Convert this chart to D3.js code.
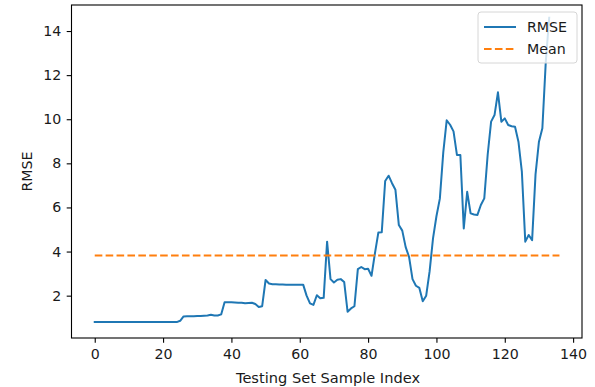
<!DOCTYPE html>
<html>
<head>
<meta charset="utf-8">
<script src="https://cdn.jsdelivr.net/npm/d3@7"></script>
<style>
  html, body { margin: 0; padding: 0; background: #fff; }
  svg { display: block; }
  text { font-family: "DejaVu Sans", sans-serif; fill: #1a1a1a; }
</style>
</head>
<body>
<div id="chart"></div>
<script>
// RMSE per test sample (index 0..133)
const rmseValues = [
  0.80, 0.80, 0.80, 0.80, 0.80, 0.80, 0.80, 0.80, 0.80, 0.80,
  0.80, 0.80, 0.80, 0.80, 0.80, 0.80, 0.80, 0.80, 0.80, 0.80,
  0.80, 0.80, 0.80, 0.80, 0.80, 0.86, 1.06, 1.07, 1.07, 1.07,
  1.08, 1.08, 1.09, 1.10, 1.13, 1.10, 1.10, 1.15, 1.70, 1.70,
  1.70, 1.69, 1.68, 1.68, 1.66, 1.67, 1.68, 1.62, 1.49, 1.52,
  2.71, 2.55, 2.52, 2.52, 2.51, 2.51, 2.50, 2.49, 2.50, 2.50,
  2.50, 2.50, 2.00, 1.65, 1.58, 2.02, 1.88, 1.90, 4.45, 2.75,
  2.60, 2.72, 2.75, 2.62, 1.27, 1.42, 1.52, 3.20, 3.30, 3.20,
  3.22, 2.90, 3.92, 4.86, 4.88, 7.20, 7.44, 7.10, 6.80, 5.20,
  4.95, 4.20, 3.75, 2.75, 2.45, 2.35, 1.75, 2.00, 3.10, 4.60,
  5.60, 6.40, 8.50, 9.95, 9.75, 9.45, 8.38, 8.38, 5.05, 6.71,
  5.73, 5.68, 5.66, 6.11, 6.41, 8.40, 9.89, 10.19, 11.22, 9.89,
  10.04, 9.74, 9.68, 9.66, 8.98, 7.62, 4.45, 4.75, 4.52, 7.50,
  8.98, 9.59, 12.60, 14.60
];
// Mean RMSE, drawn across the full sample range (index 0..136)
const meanValue = 3.82;
const meanSpan = [0, 136];

const xTicks = [0, 20, 40, 60, 80, 100, 120, 140];
const yTicks = [2, 4, 6, 8, 10, 12, 14];
const seriesNames = ["RMSE", "Mean"];
const seriesColors = ["#1f77b4", "#ff7f0e"];

const W = 595, H = 387;
const margin = { top: 5, right: 13, bottom: 49, left: 71.5 };
const fontSize = 14.2;

const svg = d3.select("#chart").append("svg")
  .attr("width", W).attr("height", H);

const x = d3.scaleLinear().domain([-6.8, 142.6]).range([margin.left, W - margin.right]);
const y = d3.scaleLinear().domain([0.08, 15.18]).range([H - margin.bottom, margin.top]);

// clip to plotting area
svg.append("clipPath").attr("id", "plot-clip")
  .append("rect")
  .attr("x", margin.left).attr("y", margin.top)
  .attr("width", W - margin.left - margin.right)
  .attr("height", H - margin.top - margin.bottom);

const plot = svg.append("g").attr("clip-path", "url(#plot-clip)");

const line = d3.line().x((d, i) => x(i)).y(d => y(d));

plot.append("path")
  .datum(rmseValues)
  .attr("d", line)
  .attr("fill", "none")
  .attr("stroke", seriesColors[0])
  .attr("stroke-width", 2)
  .attr("stroke-linejoin", "round")
  .attr("stroke-linecap", "square");

plot.append("path")
  .datum(meanSpan.map(i => ({ i, v: meanValue })))
  .attr("d", d3.line().x(d => x(d.i)).y(d => y(d.v)))
  .attr("fill", "none")
  .attr("stroke", seriesColors[1])
  .attr("stroke-width", 2)
  .attr("stroke-dasharray", "7.6,3.3");

// axes
const xAxis = svg.append("g")
  .attr("transform", `translate(0,${H - margin.bottom})`)
  .call(d3.axisBottom(x).tickValues(xTicks).tickSize(4.8).tickPadding(6.5).tickSizeOuter(0));
const yAxis = svg.append("g")
  .attr("transform", `translate(${margin.left},0)`)
  .call(d3.axisLeft(y).tickValues(yTicks).tickSize(4.8).tickPadding(5.5).tickSizeOuter(0));

[xAxis, yAxis].forEach(g => {
  g.select(".domain").remove();
  g.selectAll(".tick line").attr("stroke", "#000").attr("stroke-width", 1.1);
  g.selectAll(".tick text").attr("font-size", fontSize).attr("fill", "#1a1a1a");
});

// frame
svg.append("rect")
  .attr("x", margin.left).attr("y", margin.top)
  .attr("width", W - margin.left - margin.right)
  .attr("height", H - margin.top - margin.bottom)
  .attr("fill", "none").attr("stroke", "#000").attr("stroke-width", 1.1);

// axis labels
svg.append("text")
  .attr("x", 328)
  .attr("y", 382.5)
  .attr("text-anchor", "middle")
  .attr("font-size", fontSize + 0.4)
  .text("Testing Set Sample Index");

svg.append("text")
  .attr("transform", `translate(32,${(margin.top + H - margin.bottom) / 2}) rotate(-90)`)
  .attr("text-anchor", "middle")
  .attr("font-size", fontSize)
  .text("RMSE");

// legend
const lg = svg.append("g");
lg.append("rect")
  .attr("x", 478).attr("y", 12).attr("width", 99).attr("height", 51)
  .attr("rx", 3)
  .attr("fill", "#fff").attr("fill-opacity", 0.8)
  .attr("stroke", "#d6d6d6").attr("stroke-width", 1);

seriesNames.forEach((name, k) => {
  const yy = 27 + k * 22;
  lg.append("line")
    .attr("x1", 484).attr("x2", 516).attr("y1", yy).attr("y2", yy)
    .attr("stroke", seriesColors[k]).attr("stroke-width", 2)
    .attr("stroke-dasharray", k === 1 ? "7.6,3.3" : null);
  lg.append("text")
    .attr("x", 527).attr("y", yy).attr("dy", "0.36em")
    .attr("font-size", fontSize)
    .text(name);
});
</script>
</body>
</html>
